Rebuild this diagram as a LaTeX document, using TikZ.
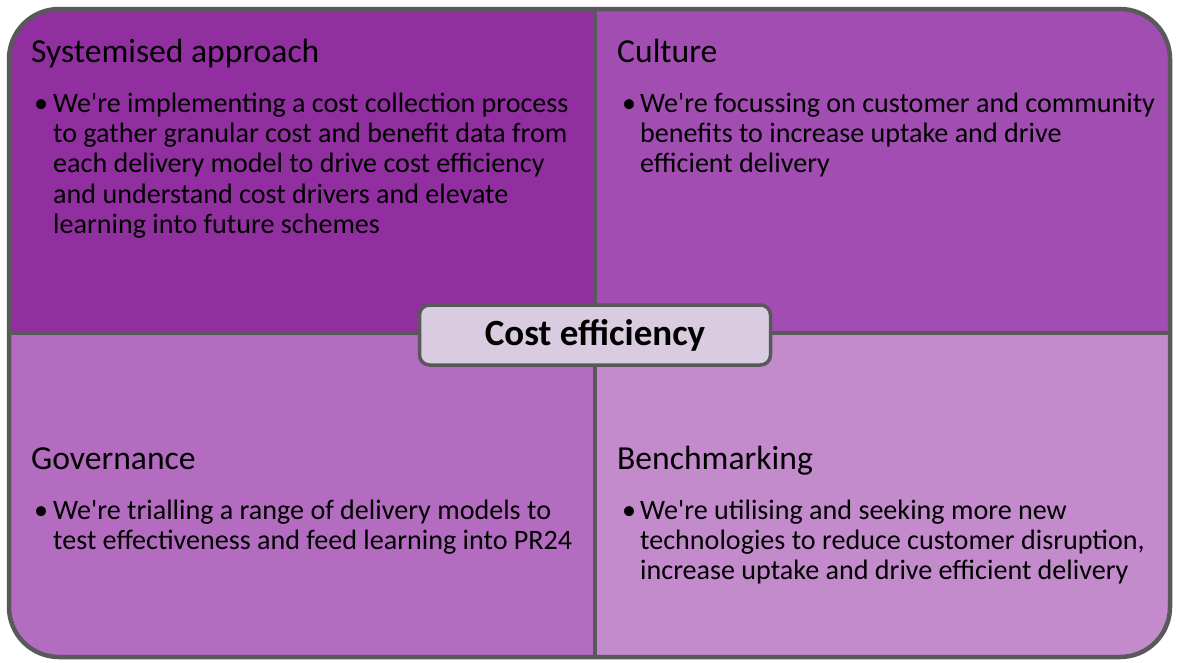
\documentclass[tikz,border=0pt]{standalone}
\usepackage{fontspec}
\setmainfont{Carlito}
\definecolor{qtl}{HTML}{922FA0}
\definecolor{qtr}{HTML}{A24DB2}
\definecolor{qbl}{HTML}{B36CBF}
\definecolor{qbr}{HTML}{C38ACC}
\definecolor{rim}{HTML}{59595C}
\definecolor{hub}{HTML}{D9CCE0}
\newcommand{\sq}{\textquotesingle}
\tikzset{
  qtitle/.style={anchor=base west, inner sep=0pt, font=\fontsize{33.6}{40}\selectfont, text=black},
  qbody/.style={anchor=base west, inner sep=0pt, font=\fontsize{28.1}{30.4}\selectfont, text=black},
  qbullet/.style={anchor=base west, inner sep=0pt, font=\fontsize{28.1}{30.4}\selectfont, text=black},
  hubbox/.style={draw=rim, line width=3.5pt, fill=hub, rounded corners=10pt, minimum width=351pt, minimum height=60pt, font=\bfseries\fontsize{37}{42}\selectfont, inner sep=0pt}
}
\begin{document}
\begin{tikzpicture}[x=1pt,y=-1pt]
\useasboundingbox (0,0) rectangle (1177,662);
\begin{scope}
\clip[rounded corners=50pt] (9,9) rectangle (1170,657);
\fill[qtl] (0,0) rectangle (595,333);
\fill[qtr] (595,0) rectangle (1177,333);
\fill[qbl] (0,333) rectangle (595,662);
\fill[qbr] (595,333) rectangle (1177,662);
\end{scope}
\coordinate (vt) at (595,9);
\coordinate (vb) at (595,657);
\coordinate (hl) at (9,333);
\coordinate (hr) at (1170,333);
\draw[rim, line width=4pt] (vt) -- (vb);
\draw[rim, line width=4pt] (hl) -- (hr);
\draw[rim, line width=4.5pt, rounded corners=50pt] (9,9) rectangle (1170,657);
\node[hubbox] (hubnode) at (595,335) {Cost efficiency};
% top left
\node[qtitle] (t1) at (31,62) {Systemised approach};
\node[qbullet] (b1) at (34,112) {•};
\node[qbody] (x1) at (53,112) {\vtop{\hbox{We\sq re implementing a cost collection process}\hbox{to gather granular cost and benefit data from}\hbox{each delivery model to drive cost efficiency}\hbox{and understand cost drivers and elevate}\hbox{learning into future schemes}}};
% top right
\node[qtitle] (t2) at (617,62) {Culture};
\node[qbullet] (b2) at (622,112) {•};
\node[qbody] (x2) at (640,112) {\vtop{\hbox{We\sq re focussing on customer and community}\hbox{benefits to increase uptake and drive}\hbox{efficient delivery}}};
% bottom left
\node[qtitle] (t3) at (31,469) {Governance};
\node[qbullet] (b3) at (34,519) {•};
\node[qbody] (x3) at (53,519) {\vtop{\hbox{We\sq re trialling a range of delivery models to}\hbox{test effectiveness and feed learning into PR24}}};
% bottom right
\node[qtitle] (t4) at (617,469) {Benchmarking};
\node[qbullet] (b4) at (622,519) {•};
\node[qbody] (x4) at (640,519) {\vtop{\hbox{We\sq re utilising and seeking more new}\hbox{technologies to reduce customer disruption,}\hbox{increase uptake and drive efficient delivery}}};
\end{tikzpicture}
\end{document}
